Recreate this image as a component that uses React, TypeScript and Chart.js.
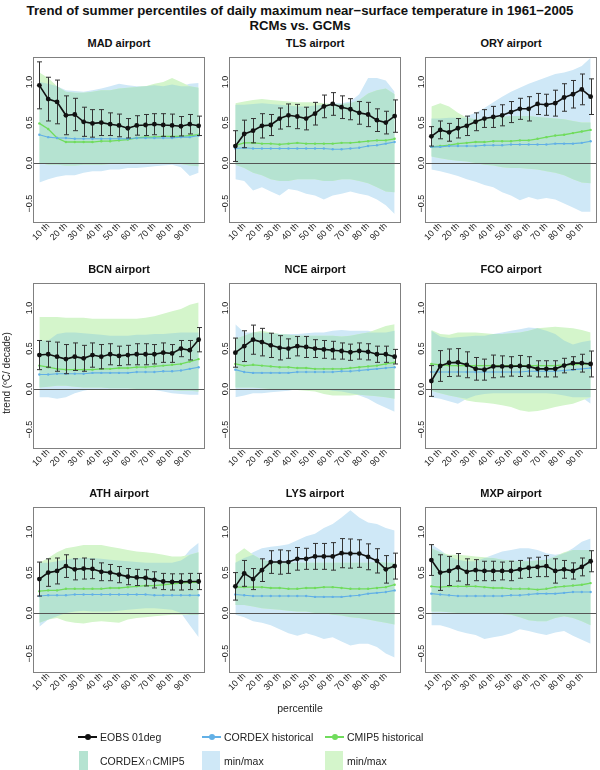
import React, { useEffect, useRef } from "react";
import { Chart, registerables } from "chart.js";
Chart.register(...registerables);

const FONT = '"Liberation Sans", Arial, Helvetica, sans-serif';
Chart.defaults.font.family = FONT;

const PERCENTILES = [5, 10, 15, 20, 25, 30, 35, 40, 45, 50, 55, 60, 65, 70, 75, 80, 85, 90, 95];
const X_TICK_VALUES = [10, 20, 30, 40, 50, 60, 70, 80, 90];
const Y_TICK_VALUES = [-0.5, 0, 0.5, 1];

const MAIN_TITLE_1 = "Trend of summer percentiles of daily maximum near\u2212surface temperature in 1961\u22122005";
const MAIN_TITLE_2 = "RCMs vs. GCMs";
const Y_TITLE = "trend (ºC/ decade)";
const X_TITLE = "percentile";
const LEGEND_LINES = ["EOBS 01deg", "CORDEX historical", "CMIP5 historical"];
const LEGEND_BANDS = ["CORDEX\u2229CMIP5", "min/max", "min/max"];

// ---- MAD ----
const MAD_eobs = [0.96, 0.79, 0.755, 0.59, 0.6, 0.51, 0.49, 0.5, 0.48, 0.465, 0.43, 0.465, 0.47, 0.48, 0.47, 0.465, 0.455, 0.48, 0.46];
const MAD_err = [0.29, 0.27, 0.27, 0.24, 0.2, 0.18, 0.17, 0.16, 0.14, 0.14, 0.12, 0.12, 0.13, 0.13, 0.14, 0.14, 0.12, 0.12, 0.12];
const MAD_cordex = [0.35, 0.32, 0.31, 0.31, 0.3, 0.3, 0.3, 0.3, 0.3, 0.3, 0.3, 0.31, 0.31, 0.31, 0.31, 0.31, 0.32, 0.32, 0.34];
const MAD_cmip = [0.49, 0.42, 0.31, 0.26, 0.26, 0.26, 0.26, 0.27, 0.27, 0.28, 0.29, 0.31, 0.32, 0.32, 0.33, 0.33, 0.33, 0.34, 0.35];
const MAD_cordexMax = [1.0, 0.98, 0.95, 0.9, 0.89, 0.88, 0.9, 0.92, 0.95, 0.98, 0.96, 0.95, 0.95, 0.96, 0.95, 0.97, 0.95, 0.98, 0.99];
const MAD_cmipMax = [1.12, 1.05, 0.95, 0.88, 0.87, 0.87, 0.88, 0.9, 0.9, 0.92, 0.93, 0.94, 0.95, 0.98, 1.0, 1.05, 1.0, 0.95, 0.93];
const MAD_cordexMin = [-0.24, -0.2, -0.17, -0.15, -0.15, -0.12, -0.1, -0.1, -0.08, -0.08, -0.06, -0.06, -0.05, -0.04, -0.03, -0.02, -0.05, -0.16, -0.12];
const MAD_cmipMin = [0.0, -0.02, -0.02, -0.03, -0.03, -0.02, -0.02, -0.02, -0.01, -0.01, 0.0, 0.0, 0.0, 0.0, -0.01, 0.0, -0.01, -0.03, -0.04];

// ---- TLS ----
const TLS_eobs = [0.21, 0.36, 0.4, 0.46, 0.47, 0.55, 0.59, 0.575, 0.55, 0.61, 0.7, 0.73, 0.69, 0.665, 0.62, 0.6, 0.53, 0.5, 0.58];
const TLS_err = [0.19, 0.17, 0.15, 0.15, 0.13, 0.13, 0.14, 0.15, 0.14, 0.14, 0.14, 0.14, 0.14, 0.13, 0.14, 0.15, 0.14, 0.14, 0.2];
const TLS_cordex = [0.18, 0.19, 0.18, 0.18, 0.18, 0.18, 0.18, 0.18, 0.18, 0.18, 0.18, 0.17, 0.17, 0.18, 0.19, 0.21, 0.22, 0.24, 0.26];
const TLS_cmip = [0.22, 0.25, 0.25, 0.24, 0.24, 0.23, 0.24, 0.25, 0.24, 0.24, 0.24, 0.24, 0.25, 0.25, 0.26, 0.27, 0.28, 0.28, 0.3];
const TLS_cordexMax = [0.72, 0.72, 0.73, 0.74, 0.73, 0.72, 0.71, 0.7, 0.7, 0.71, 0.72, 0.74, 0.74, 0.76, 0.85, 1.05, 1.05, 1.02, 0.88];
const TLS_cmipMax = [0.74, 0.76, 0.78, 0.79, 0.78, 0.77, 0.76, 0.75, 0.75, 0.75, 0.74, 0.73, 0.73, 0.74, 0.78, 0.86, 0.9, 0.92, 0.85];
const TLS_cordexMin = [-0.2, -0.22, -0.34, -0.3, -0.35, -0.4, -0.32, -0.34, -0.38, -0.4, -0.45, -0.4, -0.38, -0.35, -0.38, -0.4, -0.45, -0.52, -0.63];
const TLS_cmipMin = [-0.02, -0.06, -0.12, -0.15, -0.2, -0.22, -0.22, -0.2, -0.2, -0.2, -0.22, -0.22, -0.2, -0.2, -0.22, -0.25, -0.3, -0.35, -0.36];

// ---- ORY ----
const ORY_eobs = [0.33, 0.41, 0.38, 0.43, 0.46, 0.51, 0.55, 0.57, 0.59, 0.63, 0.67, 0.67, 0.73, 0.72, 0.74, 0.81, 0.85, 0.91, 0.82];
const ORY_err = [0.12, 0.11, 0.11, 0.12, 0.12, 0.11, 0.11, 0.13, 0.13, 0.13, 0.13, 0.15, 0.13, 0.13, 0.16, 0.17, 0.17, 0.19, 0.22];
const ORY_cordex = [0.2, 0.2, 0.21, 0.21, 0.21, 0.21, 0.22, 0.22, 0.22, 0.23, 0.23, 0.23, 0.23, 0.23, 0.24, 0.24, 0.24, 0.25, 0.27];
const ORY_cmip = [0.2, 0.21, 0.22, 0.24, 0.25, 0.26, 0.26, 0.27, 0.27, 0.27, 0.28, 0.28, 0.3, 0.32, 0.34, 0.35, 0.37, 0.39, 0.41];
const ORY_cordexMax = [0.55, 0.55, 0.56, 0.56, 0.58, 0.62, 0.68, 0.75, 0.82, 0.88, 0.93, 0.98, 1.02, 1.06, 1.1, 1.12, 1.15, 1.2, 1.3];
const ORY_cmipMax = [0.7, 0.74, 0.7, 0.62, 0.56, 0.54, 0.55, 0.56, 0.57, 0.58, 0.58, 0.58, 0.57, 0.56, 0.55, 0.54, 0.52, 0.5, 0.5];
const ORY_cordexMin = [-0.08, -0.1, -0.13, -0.16, -0.2, -0.23, -0.27, -0.3, -0.36, -0.4, -0.46, -0.42, -0.45, -0.43, -0.45, -0.5, -0.55, -0.6, -0.6];
const ORY_cmipMin = [0.08, 0.06, 0.04, 0.03, 0.02, 0.0, -0.02, -0.03, -0.05, -0.06, -0.06, -0.07, -0.08, -0.1, -0.12, -0.15, -0.2, -0.24, -0.25];

// ---- BCN ----
const BCN_eobs = [0.42, 0.43, 0.4, 0.37, 0.4, 0.38, 0.42, 0.4, 0.43, 0.41, 0.42, 0.43, 0.43, 0.43, 0.45, 0.44, 0.5, 0.48, 0.61];
const BCN_err = [0.18, 0.16, 0.18, 0.18, 0.17, 0.16, 0.15, 0.15, 0.13, 0.12, 0.12, 0.13, 0.13, 0.12, 0.12, 0.11, 0.1, 0.12, 0.15];
const BCN_cordex = [0.18, 0.18, 0.19, 0.19, 0.19, 0.19, 0.2, 0.2, 0.2, 0.2, 0.2, 0.21, 0.21, 0.21, 0.22, 0.22, 0.23, 0.25, 0.27];
const BCN_cmip = [0.29, 0.27, 0.25, 0.24, 0.24, 0.24, 0.24, 0.25, 0.25, 0.26, 0.26, 0.27, 0.27, 0.28, 0.29, 0.3, 0.31, 0.34, 0.37];
const BCN_cordexMax = [0.6, 0.6, 0.68, 0.7, 0.7, 0.69, 0.68, 0.67, 0.66, 0.66, 0.66, 0.67, 0.67, 0.68, 0.68, 0.69, 0.7, 0.7, 0.7];
const BCN_cmipMax = [0.89, 0.89, 0.89, 0.88, 0.88, 0.88, 0.87, 0.87, 0.87, 0.87, 0.87, 0.87, 0.88, 0.9, 0.93, 0.96, 0.99, 1.04, 1.07];
const BCN_cordexMin = [-0.1, -0.1, -0.12, -0.1, -0.05, -0.02, 0.0, 0.0, 0.0, 0.0, 0.0, 0.0, 0.0, -0.01, -0.03, -0.05, -0.06, -0.07, -0.07];
const BCN_cmipMin = [0.02, 0.03, 0.04, 0.04, 0.03, 0.02, 0.02, 0.02, 0.01, 0.01, 0.01, 0.0, 0.0, 0.0, 0.0, -0.01, -0.02, -0.02, -0.03];

// ---- NCE ----
const NCE_eobs = [0.45, 0.53, 0.61, 0.58, 0.54, 0.51, 0.5, 0.53, 0.52, 0.5, 0.49, 0.48, 0.47, 0.455, 0.47, 0.46, 0.43, 0.43, 0.4];
const NCE_err = [0.18, 0.19, 0.18, 0.17, 0.15, 0.15, 0.12, 0.12, 0.13, 0.11, 0.11, 0.11, 0.1, 0.1, 0.1, 0.1, 0.1, 0.1, 0.09];
const NCE_cordex = [0.24, 0.21, 0.2, 0.2, 0.2, 0.2, 0.2, 0.21, 0.21, 0.21, 0.21, 0.21, 0.22, 0.22, 0.23, 0.24, 0.25, 0.26, 0.27];
const NCE_cmip = [0.31, 0.29, 0.3, 0.29, 0.28, 0.27, 0.27, 0.26, 0.26, 0.25, 0.25, 0.25, 0.25, 0.26, 0.27, 0.28, 0.29, 0.31, 0.33];
const NCE_cordexMax = [0.8, 0.7, 0.7, 0.7, 0.69, 0.68, 0.68, 0.68, 0.69, 0.7, 0.7, 0.72, 0.73, 0.72, 0.72, 0.72, 0.7, 0.7, 0.72];
const NCE_cmipMax = [0.62, 0.66, 0.7, 0.72, 0.7, 0.68, 0.67, 0.66, 0.66, 0.66, 0.66, 0.66, 0.65, 0.66, 0.68, 0.7, 0.74, 0.78, 0.8];
const NCE_cordexMin = [-0.1, -0.08, -0.05, -0.05, -0.04, -0.03, -0.02, 0.0, 0.0, 0.0, 0.0, -0.02, -0.03, -0.05, -0.08, -0.12, -0.18, -0.23, -0.28];
const NCE_cmipMin = [0.02, 0.02, 0.02, 0.01, 0.0, 0.0, 0.0, -0.01, -0.02, -0.03, -0.06, -0.08, -0.08, -0.08, -0.07, -0.08, -0.09, -0.1, -0.12];

// ---- FCO ----
const FCO_eobs = [0.1, 0.285, 0.325, 0.33, 0.3, 0.25, 0.24, 0.28, 0.28, 0.28, 0.285, 0.28, 0.25, 0.25, 0.25, 0.29, 0.32, 0.32, 0.31];
const FCO_err = [0.19, 0.19, 0.17, 0.17, 0.16, 0.14, 0.13, 0.14, 0.13, 0.12, 0.13, 0.12, 0.1, 0.1, 0.1, 0.09, 0.08, 0.11, 0.16];
const FCO_cordex = [0.21, 0.21, 0.21, 0.21, 0.21, 0.21, 0.21, 0.21, 0.21, 0.21, 0.21, 0.22, 0.22, 0.22, 0.22, 0.23, 0.24, 0.25, 0.26];
const FCO_cmip = [0.31, 0.3, 0.29, 0.29, 0.29, 0.29, 0.29, 0.29, 0.29, 0.29, 0.29, 0.29, 0.29, 0.29, 0.29, 0.3, 0.3, 0.31, 0.31];
const FCO_cordexMax = [0.72, 0.65, 0.63, 0.64, 0.65, 0.66, 0.66, 0.68, 0.7, 0.72, 0.74, 0.76, 0.75, 0.72, 0.68, 0.6, 0.55, 0.58, 0.6];
const FCO_cmipMax = [0.73, 0.68, 0.67, 0.7, 0.7, 0.7, 0.69, 0.68, 0.68, 0.69, 0.7, 0.72, 0.75, 0.76, 0.77, 0.76, 0.75, 0.73, 0.7];
const FCO_cordexMin = [-0.1, -0.12, -0.15, -0.18, -0.12, -0.08, -0.06, -0.05, -0.05, -0.05, -0.05, -0.05, -0.05, -0.05, -0.06, -0.08, -0.1, -0.1, -0.18];
const FCO_cmipMin = [-0.02, -0.05, -0.08, -0.1, -0.14, -0.16, -0.17, -0.18, -0.2, -0.22, -0.26, -0.28, -0.27, -0.25, -0.22, -0.2, -0.18, -0.14, -0.1];

// ---- ATH ----
const ATH_eobs = [0.42, 0.5, 0.52, 0.58, 0.54, 0.55, 0.545, 0.51, 0.5, 0.475, 0.45, 0.44, 0.435, 0.41, 0.39, 0.385, 0.385, 0.39, 0.39];
const ATH_err = [0.21, 0.17, 0.16, 0.14, 0.13, 0.13, 0.12, 0.11, 0.1, 0.1, 0.1, 0.1, 0.1, 0.1, 0.1, 0.1, 0.1, 0.1, 0.1];
const ATH_cordex = [0.21, 0.22, 0.22, 0.22, 0.23, 0.23, 0.23, 0.23, 0.23, 0.23, 0.23, 0.23, 0.23, 0.22, 0.22, 0.22, 0.22, 0.22, 0.22];
const ATH_cmip = [0.27, 0.28, 0.28, 0.3, 0.3, 0.3, 0.3, 0.3, 0.31, 0.31, 0.32, 0.33, 0.34, 0.34, 0.35, 0.36, 0.37, 0.38, 0.38];
const ATH_cordexMax = [0.62, 0.62, 0.64, 0.66, 0.68, 0.68, 0.68, 0.67, 0.66, 0.65, 0.64, 0.63, 0.62, 0.62, 0.62, 0.62, 0.65, 0.78, 0.87];
const ATH_cmipMax = [0.62, 0.68, 0.75, 0.8, 0.82, 0.84, 0.84, 0.84, 0.82, 0.8, 0.78, 0.76, 0.75, 0.74, 0.72, 0.7, 0.7, 0.72, 0.75];
const ATH_cordexMin = [-0.17, -0.08, -0.04, 0.0, 0.02, 0.03, 0.02, 0.02, 0.02, 0.03, 0.04, 0.05, 0.06, 0.06, 0.05, 0.04, 0.0, -0.15, -0.3];
const ATH_cmipMin = [-0.12, -0.08, -0.06, -0.1, -0.12, -0.13, -0.11, -0.1, -0.11, -0.12, -0.08, -0.06, -0.05, -0.04, -0.03, -0.02, -0.02, -0.02, -0.02];

// ---- LYS ----
const LYS_eobs = [0.33, 0.49, 0.42, 0.53, 0.63, 0.63, 0.63, 0.67, 0.67, 0.7, 0.7, 0.7, 0.74, 0.735, 0.735, 0.695, 0.645, 0.54, 0.58];
const LYS_err = [0.17, 0.16, 0.13, 0.14, 0.14, 0.15, 0.14, 0.14, 0.13, 0.16, 0.16, 0.17, 0.18, 0.18, 0.17, 0.16, 0.15, 0.17, 0.16];
const LYS_cordex = [0.23, 0.22, 0.21, 0.21, 0.21, 0.21, 0.21, 0.21, 0.21, 0.2, 0.2, 0.2, 0.2, 0.21, 0.22, 0.24, 0.25, 0.26, 0.28];
const LYS_cmip = [0.32, 0.32, 0.32, 0.32, 0.31, 0.31, 0.3, 0.3, 0.31, 0.31, 0.32, 0.32, 0.31, 0.3, 0.3, 0.3, 0.31, 0.32, 0.35];
const LYS_cordexMax = [0.62, 0.68, 0.75, 0.8, 0.82, 0.83, 0.85, 0.9, 0.95, 0.98, 1.05, 1.1, 1.18, 1.27, 1.18, 1.12, 1.1, 1.05, 1.02];
const LYS_cmipMax = [0.72, 0.8, 0.72, 0.66, 0.63, 0.62, 0.62, 0.62, 0.62, 0.62, 0.62, 0.62, 0.62, 0.62, 0.62, 0.62, 0.63, 0.62, 0.62];
const LYS_cordexMin = [-0.02, -0.05, -0.1, -0.12, -0.15, -0.2, -0.25, -0.28, -0.25, -0.28, -0.32, -0.3, -0.35, -0.4, -0.38, -0.38, -0.42, -0.5, -0.55];
const LYS_cmipMin = [0.1, 0.1, 0.08, 0.06, 0.05, 0.04, 0.03, 0.02, 0.02, 0.0, 0.0, -0.02, -0.03, -0.05, -0.06, -0.08, -0.1, -0.12, -0.14];

// ---- MXP ----
const MXP_eobs = [0.655, 0.5, 0.52, 0.565, 0.51, 0.53, 0.52, 0.52, 0.52, 0.52, 0.54, 0.56, 0.57, 0.58, 0.52, 0.54, 0.52, 0.57, 0.64];
const MXP_err = [0.19, 0.22, 0.18, 0.17, 0.16, 0.13, 0.12, 0.12, 0.11, 0.12, 0.11, 0.12, 0.12, 0.13, 0.15, 0.11, 0.1, 0.11, 0.13];
const MXP_cordex = [0.24, 0.23, 0.22, 0.21, 0.21, 0.21, 0.21, 0.21, 0.21, 0.22, 0.22, 0.23, 0.24, 0.24, 0.24, 0.25, 0.26, 0.26, 0.26];
const MXP_cmip = [0.33, 0.32, 0.33, 0.33, 0.33, 0.33, 0.32, 0.31, 0.31, 0.3, 0.3, 0.3, 0.29, 0.3, 0.32, 0.33, 0.34, 0.35, 0.37];
const MXP_cordexMax = [0.85, 0.78, 0.7, 0.66, 0.64, 0.64, 0.68, 0.72, 0.76, 0.78, 0.8, 0.8, 0.78, 0.74, 0.72, 0.74, 0.8, 0.88, 0.92];
const MXP_cmipMax = [0.8, 0.75, 0.72, 0.72, 0.71, 0.7, 0.69, 0.68, 0.66, 0.65, 0.64, 0.64, 0.65, 0.66, 0.7, 0.75, 0.78, 0.78, 0.78];
const MXP_cordexMin = [-0.15, -0.15, -0.18, -0.22, -0.25, -0.27, -0.32, -0.3, -0.28, -0.25, -0.2, -0.22, -0.25, -0.27, -0.24, -0.22, -0.28, -0.33, -0.38];
const MXP_cmipMin = [0.02, 0.02, 0.01, 0.0, 0.0, 0.0, 0.0, 0.0, -0.01, -0.02, -0.05, -0.09, -0.1, -0.1, -0.06, -0.04, -0.06, -0.1, -0.15];

const PANELS = [
  { name: "MAD airport", eobs: MAD_eobs, err: MAD_err, cordex: MAD_cordex, cmip: MAD_cmip, cordexMax: MAD_cordexMax, cmipMax: MAD_cmipMax, cordexMin: MAD_cordexMin, cmipMin: MAD_cmipMin },
  { name: "TLS airport", eobs: TLS_eobs, err: TLS_err, cordex: TLS_cordex, cmip: TLS_cmip, cordexMax: TLS_cordexMax, cmipMax: TLS_cmipMax, cordexMin: TLS_cordexMin, cmipMin: TLS_cmipMin },
  { name: "ORY airport", eobs: ORY_eobs, err: ORY_err, cordex: ORY_cordex, cmip: ORY_cmip, cordexMax: ORY_cordexMax, cmipMax: ORY_cmipMax, cordexMin: ORY_cordexMin, cmipMin: ORY_cmipMin },
  { name: "BCN airport", eobs: BCN_eobs, err: BCN_err, cordex: BCN_cordex, cmip: BCN_cmip, cordexMax: BCN_cordexMax, cmipMax: BCN_cmipMax, cordexMin: BCN_cordexMin, cmipMin: BCN_cmipMin },
  { name: "NCE airport", eobs: NCE_eobs, err: NCE_err, cordex: NCE_cordex, cmip: NCE_cmip, cordexMax: NCE_cordexMax, cmipMax: NCE_cmipMax, cordexMin: NCE_cordexMin, cmipMin: NCE_cmipMin },
  { name: "FCO airport", eobs: FCO_eobs, err: FCO_err, cordex: FCO_cordex, cmip: FCO_cmip, cordexMax: FCO_cordexMax, cmipMax: FCO_cmipMax, cordexMin: FCO_cordexMin, cmipMin: FCO_cmipMin },
  { name: "ATH airport", eobs: ATH_eobs, err: ATH_err, cordex: ATH_cordex, cmip: ATH_cmip, cordexMax: ATH_cordexMax, cmipMax: ATH_cmipMax, cordexMin: ATH_cordexMin, cmipMin: ATH_cmipMin },
  { name: "LYS airport", eobs: LYS_eobs, err: LYS_err, cordex: LYS_cordex, cmip: LYS_cmip, cordexMax: LYS_cordexMax, cmipMax: LYS_cmipMax, cordexMin: LYS_cordexMin, cmipMin: LYS_cmipMin },
  { name: "MXP airport", eobs: MXP_eobs, err: MXP_err, cordex: MXP_cordex, cmip: MXP_cmip, cordexMax: MXP_cordexMax, cmipMax: MXP_cmipMax, cordexMin: MXP_cordexMin, cmipMin: MXP_cmipMin },
];

const COLORS = {
  eobs: "#111111",
  cordex: "#62b0e6",
  cmip: "#70dc5c",
  inter: "#b5e3d1",
  cordexBand: "#cfe8f7",
  cmipBand: "#d4f5cb",
  frame: "#808080",
  zero: "#555555",
  text: "#1a1a1a",
};

// layout
const Y_MIN = -0.74;
const Y_MAX = 1.31;
const X_MIN = 1.4;
const X_MAX = 98.6;
const COL_LEFT = [33, 229, 425];
const ROW_TOP = [57, 283, 507];
const BOX_W = 172;
const BOX_H = 166;
const AXIS_W = 32;
const AXIS_H = 45;
const PAD = 4;

function xy(arr: number[]) {
  return arr.map((v, i) => ({ x: PERCENTILES[i], y: v }));
}

function fmtY(v: number) {
  const s = Math.abs(v).toFixed(1);
  return v < 0 ? "\u2212" + s : s;
}

function bandPair(hi: number[], lo: number[], color: string) {
  return [
    { data: xy(hi), borderColor: "rgba(0,0,0,0)", borderWidth: 0, pointRadius: 0, backgroundColor: color, fill: "+1" },
    { data: xy(lo), borderColor: "rgba(0,0,0,0)", borderWidth: 0, pointRadius: 0, backgroundColor: color, fill: false },
  ];
}

function decoPlugin(p: any) {
  return {
    id: "panelDeco",
    beforeDatasetDraw(chart: any, args: any) {
      const { ctx, chartArea: a, scales } = chart;
      if (args.index === 2) {
        const y0 = Math.round(scales.y.getPixelForValue(0)) + 0.5;
        ctx.save();
        ctx.strokeStyle = COLORS.zero;
        ctx.lineWidth = 1.2;
        ctx.beginPath();
        ctx.moveTo(a.left, y0);
        ctx.lineTo(a.right, y0);
        ctx.stroke();
        ctx.restore();
      }
      if (args.index === 0) {
        ctx.save();
        ctx.strokeStyle = "#333333";
        ctx.lineWidth = 1;
        p.eobs.forEach((v: number, i: number) => {
          const x = Math.round(scales.x.getPixelForValue(PERCENTILES[i])) + 0.5;
          const yh = scales.y.getPixelForValue(v + p.err[i]);
          const yl = scales.y.getPixelForValue(v - p.err[i]);
          ctx.beginPath();
          ctx.moveTo(x, yh);
          ctx.lineTo(x, yl);
          ctx.moveTo(x - 2.5, yh);
          ctx.lineTo(x + 2.5, yh);
          ctx.moveTo(x - 2.5, yl);
          ctx.lineTo(x + 2.5, yl);
          ctx.stroke();
        });
        ctx.restore();
      }
    },
    afterDraw(chart: any) {
      const { ctx, chartArea: a } = chart;
      ctx.save();
      ctx.strokeStyle = COLORS.frame;
      ctx.lineWidth = 1;
      ctx.strokeRect(Math.round(a.left) + 0.5, Math.round(a.top) + 0.5, Math.round(a.right - a.left) - 1, Math.round(a.bottom - a.top) - 1);
      ctx.restore();
    },
  };
}

function Panel({ p, col, row }: { p: any; col: number; row: number }) {
  const ref = useRef<HTMLCanvasElement>(null);
  useEffect(() => {
    const interHi = p.cordexMax.map((v: number, i: number) => Math.min(v, p.cmipMax[i]));
    const interLo = p.cordexMin.map((v: number, i: number) => Math.max(v, p.cmipMin[i]));
    const interHiC = interHi.map((v: number, i: number) => Math.max(v, interLo[i]));
    const chart = new Chart(ref.current as HTMLCanvasElement, {
      type: "line",
      data: {
        datasets: [
          {
            data: xy(p.eobs),
            borderColor: COLORS.eobs,
            borderWidth: 1.6,
            pointRadius: 2.4,
            pointBackgroundColor: COLORS.eobs,
            pointBorderWidth: 0,
            fill: false,
          },
          {
            data: xy(p.cordex),
            borderColor: COLORS.cordex,
            borderWidth: 1.1,
            pointRadius: 1.2,
            pointBackgroundColor: COLORS.cordex,
            pointBorderWidth: 0,
            fill: false,
          },
          {
            data: xy(p.cmip),
            borderColor: COLORS.cmip,
            borderWidth: 1.3,
            pointRadius: 1.2,
            pointBackgroundColor: COLORS.cmip,
            pointBorderWidth: 0,
            fill: false,
          },
          ...bandPair(interHiC, interLo, COLORS.inter),
          ...bandPair(p.cmipMax, p.cmipMin, COLORS.cmipBand),
          ...bandPair(p.cordexMax, p.cordexMin, COLORS.cordexBand),
        ] as any,
      },
      options: {
        animation: false,
        responsive: false,
        events: [],
        layout: { padding: { top: PAD, right: PAD, left: 0, bottom: 0 } },
        plugins: { legend: { display: false }, tooltip: { enabled: false }, title: { display: false } },
        scales: {
          x: {
            type: "linear",
            min: X_MIN,
            max: X_MAX,
            afterBuildTicks: (s: any) => {
              s.ticks = X_TICK_VALUES.map((v) => ({ value: v }));
            },
            afterFit: (s: any) => {
              s.height = AXIS_H;
            },
            grid: { display: false, drawTicks: false },
            border: { display: false },
            ticks: {
              autoSkip: false,
              minRotation: 45,
              maxRotation: 45,
              padding: -2,
              color: COLORS.text,
              font: { size: 9 },
              callback: (v: any) => v + " th",
            },
          },
          y: {
            type: "linear",
            min: Y_MIN,
            max: Y_MAX,
            afterBuildTicks: (s: any) => {
              s.ticks = Y_TICK_VALUES.map((v) => ({ value: v }));
            },
            afterFit: (s: any) => {
              s.width = AXIS_W;
            },
            grid: { display: false, drawTicks: false },
            border: { display: false },
            ticks: {
              minRotation: 90,
              maxRotation: 90,
              crossAlign: "center",
              padding: -5,
              color: COLORS.text,
              font: { size: 9 },
              callback: (v: any) => fmtY(Number(v)),
            },
          },
        },
      } as any,
      plugins: [decoPlugin(p)],
    });
    return () => chart.destroy();
  }, [p]);

  const left = COL_LEFT[col];
  const top = ROW_TOP[row];
  return (
    <>
      <div
        style={{
          position: "absolute",
          left: left - 20,
          width: BOX_W + 40,
          top: top - 20,
          height: 13,
          lineHeight: "13px",
          textAlign: "center",
          font: `bold 11px ${FONT}`,
          color: "#111",
        }}
      >
        {p.name}
      </div>
      <canvas
        ref={ref}
        width={AXIS_W + BOX_W + PAD}
        height={PAD + BOX_H + AXIS_H}
        style={{ position: "absolute", left: left - AXIS_W, top: top - PAD }}
      />
    </>
  );
}

function LineIcon({ x, y, color }: { x: number; y: number; color: string }) {
  return (
    <>
      <div style={{ position: "absolute", left: x, top: y - 0.75, width: 19, height: 1.5, background: color }} />
      <div style={{ position: "absolute", left: x + 6.5, top: y - 3, width: 6, height: 6, borderRadius: 3, background: color }} />
    </>
  );
}

export default function App() {
  const legendText = { position: "absolute" as const, font: `10.5px ${FONT}`, color: "#222", whiteSpace: "nowrap" as const, lineHeight: "14px" };
  return (
    <div style={{ position: "absolute", left: 0, top: 0, width: 600, height: 770, overflow: "hidden", background: "#fff", fontFamily: FONT }}>
      <div style={{ position: "absolute", left: 0, width: 600, top: 3, textAlign: "center", font: `bold 13.2px ${FONT}`, lineHeight: "15px", color: "#111" }}>
        <div>{MAIN_TITLE_1}</div>
        <div>{MAIN_TITLE_2}</div>
      </div>
      {PANELS.map((p, i) => (
        <Panel key={p.name} p={p} col={i % 3} row={Math.floor(i / 3)} />
      ))}
      <div
        style={{
          position: "absolute",
          left: 8 - 60,
          top: 373 - 7,
          width: 120,
          height: 14,
          lineHeight: "14px",
          textAlign: "center",
          transform: "rotate(-90deg)",
          font: `10px ${FONT}`,
          color: "#222",
        }}
      >
        {Y_TITLE}
      </div>
      <div style={{ position: "absolute", left: 200, width: 200, top: 701, textAlign: "center", font: `10.5px ${FONT}`, color: "#222", lineHeight: "14px" }}>
        {X_TITLE}
      </div>
      {/* legend */}
      <LineIcon x={78} y={737} color={COLORS.eobs} />
      <LineIcon x={202} y={737} color={COLORS.cordex} />
      <LineIcon x={325} y={737} color={COLORS.cmip} />
      <div style={{ ...legendText, left: 100, top: 730 }}>{LEGEND_LINES[0]}</div>
      <div style={{ ...legendText, left: 224, top: 730 }}>{LEGEND_LINES[1]}</div>
      <div style={{ ...legendText, left: 347, top: 730 }}>{LEGEND_LINES[2]}</div>
      <div style={{ position: "absolute", left: 79, top: 751, width: 9, height: 22, background: COLORS.inter }} />
      <div style={{ position: "absolute", left: 202, top: 751, width: 18, height: 22, background: COLORS.cordexBand }} />
      <div style={{ position: "absolute", left: 325, top: 751, width: 18, height: 22, background: COLORS.cmipBand }} />
      <div style={{ ...legendText, left: 100, top: 754 }}>{LEGEND_BANDS[0]}</div>
      <div style={{ ...legendText, left: 224, top: 754 }}>{LEGEND_BANDS[1]}</div>
      <div style={{ ...legendText, left: 347, top: 754 }}>{LEGEND_BANDS[2]}</div>
    </div>
  );
}
